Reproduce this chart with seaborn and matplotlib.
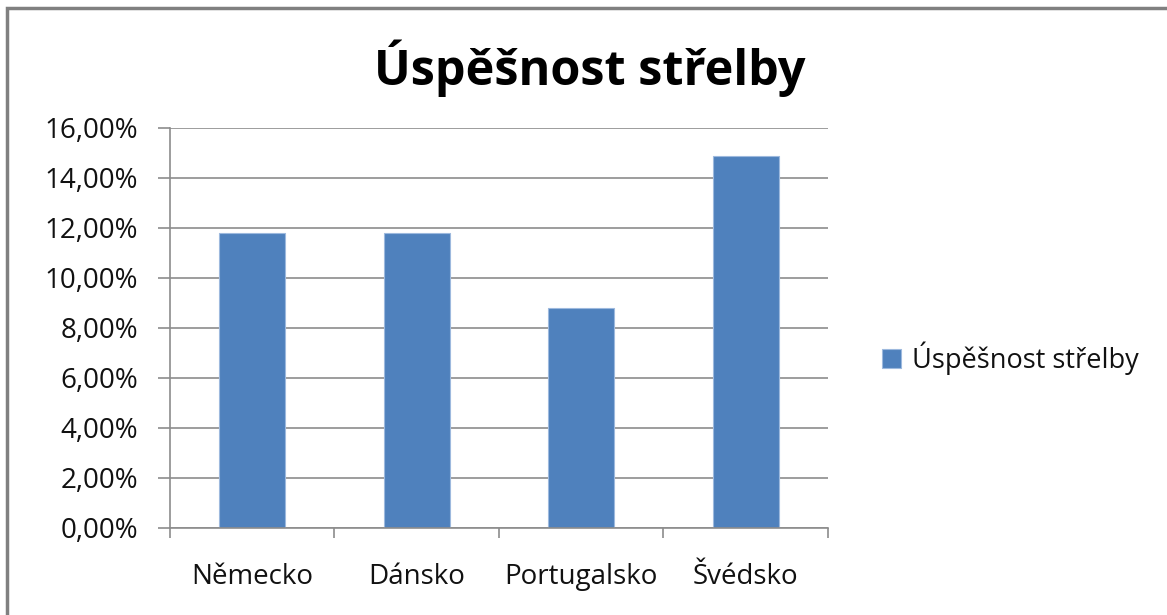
import matplotlib
matplotlib.use("Agg")
import matplotlib.pyplot as plt
import seaborn as sns
import pandas as pd
from matplotlib.ticker import FixedLocator, FuncFormatter
from matplotlib.patches import Rectangle

categories = ["Německo", "Dánsko", "Portugalsko", "Švédsko"]
values = [11.8, 11.8, 8.82, 14.9]
series_name = "Úspěšnost střelby"
title = "Úspěšnost střelby"
yticks = [0, 2, 4, 6, 8, 10, 12, 14, 16]

sns.set_theme(style="white")
plt.rcParams['font.family'] = ['Open Sans', 'DejaVu Sans']

df = pd.DataFrame({"country": categories, "value": values})

W, H = 1167, 615
fig = plt.figure(figsize=(W / 100, H / 100), dpi=100)
ax = fig.add_axes([170 / W, (H - 528) / H, (828 - 170) / W, 400 / H])

sns.barplot(data=df, x="country", y="value", color="#4F81BD", width=0.4,
            edgecolor="#9DB9DE", linewidth=0.8, label=series_name, ax=ax, saturation=1)

ax.set_ylim(0, 16)
ax.set_xlim(-0.5, len(categories) - 0.5)
ax.yaxis.set_major_locator(FixedLocator(yticks))
ax.yaxis.set_major_formatter(FuncFormatter(lambda v, p: f"{v:.2f}%".replace(".", ",")))
ax.grid(axis="y", color="#8c8c8c", linewidth=1.2)
ax.set_axisbelow(True)
ax.set_xlabel("")
ax.set_ylabel("")

for s in ["top", "right"]:
    ax.spines[s].set_visible(False)
for s in ["left", "bottom"]:
    ax.spines[s].set_color("#8c8c8c")
    ax.spines[s].set_linewidth(1.2)

ax.tick_params(axis="y", which="major", length=9, width=1.2, color="#8c8c8c",
               labelsize=20, labelcolor="#111111", pad=14, left=True)
ax.tick_params(axis="x", which="major", length=0, labelsize=20, labelcolor="#111111", pad=25)
ax.set_xticks([i - 0.5 for i in range(len(categories) + 1)], minor=True)
ax.tick_params(axis="x", which="minor", length=7, width=1.2, color="#8c8c8c", bottom=True, direction="out")

fig.text(590 / W, 1 - 68 / H, title, ha="center", va="center",
         fontsize=35, fontweight="bold", color="#000000")

leg = ax.legend(loc="center left", bbox_to_anchor=(858 / W, 1 - 358 / H),
                bbox_transform=fig.transFigure, frameon=False, fontsize=19.5,
                handlelength=0.7, handleheight=0.7, handletextpad=0.4)
for t in leg.get_texts():
    t.set_color("#111111")

fig.patches.append(Rectangle((7 / W, -0.1), 1.2, 1 - 8 / H + 0.1, transform=fig.transFigure,
                             fill=False, edgecolor="#808080", linewidth=2.5, zorder=10))

fig.savefig("out.png", dpi=100)
